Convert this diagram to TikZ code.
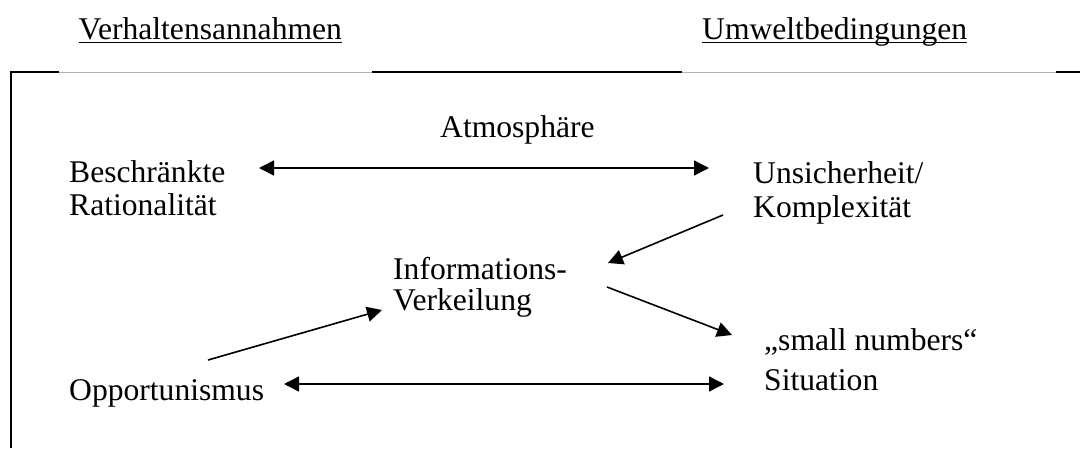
\documentclass[tikz,border=0pt]{standalone}
\usepackage{fontspec}
\setmainfont{Liberation Serif}
\usetikzlibrary{arrows.meta}
\tikzset{
  lbl/.style={anchor=base west, inner sep=0pt, font=\fontsize{31.6}{34}\selectfont},
  tip/.style={Triangle[length=15pt,width=15pt]},
  conn/.style={line width=1.6pt, -{Triangle[length=15pt,width=15pt]}},
  biconn/.style={line width=1.6pt, {Triangle[length=15pt,width=15pt]}-{Triangle[length=15pt,width=15pt]}},
  frameblack/.style={line width=2pt, black},
  framegrey/.style={line width=1pt, black!30},
  uline/.style={line width=1.9pt},
}
\begin{document}
\begin{tikzpicture}[x=1pt,y=-1pt]
\useasboundingbox (0,0) rectangle (1080,448);
% headings
\node[lbl] (vh) at (78.5,39.5) {Verhaltensannahmen};
\node[lbl] (ub) at (702,39.5) {Umweltbedingungen};
\draw[uline] ([yshift=-3pt]vh.base west) -- ([yshift=-3pt]vh.base east);
\draw[uline] ([yshift=-3pt]ub.base west) -- ([yshift=-3pt]ub.base east);
% frame
\coordinate (f0) at (10.5,72);
\coordinate (f1) at (58.5,72);
\coordinate (f2) at (372,72);
\coordinate (f3) at (682,72);
\coordinate (f4) at (1056,72);
\coordinate (f5) at (1080,72);
\coordinate (fb) at (10.5,448);
\draw[framegrey] (f1) -- (f2);
\draw[framegrey] (f3) -- (f4);
\draw[frameblack] (fb) -- (f0) -- (f1);
\draw[frameblack] (f2) -- (f3);
\draw[frameblack] (f4) -- (f5);
% texts
\node[lbl] (atm) at (440,137) {Atmosphäre};
\node[lbl] (br1) at (69,182) {Beschränkte};
\node[lbl] (br2) at (69,215) {Rationalität};
\node[lbl] (uk1) at (753,183) {Unsicherheit/};
\node[lbl] (uk2) at (753,217) {Komplexität};
\node[lbl] (iv1) at (393,279) {Informations-};
\node[lbl] (iv2) at (393,310) {Verkeilung};
\node[lbl] (sn1) at (764,350.5) {„small numbers“};
\node[lbl] (sn2) at (764,390) {Situation};
\node[lbl] (opp) at (69,400.5) {Opportunismus};
% connector ends
\coordinate (a1) at (259,168);
\coordinate (a2) at (709,168);
\coordinate (b1) at (723,215);
\coordinate (b2) at (608,263);
\coordinate (c1) at (607,287);
\coordinate (c2) at (732,335);
\coordinate (d1) at (208,360);
\coordinate (d2) at (382,310);
\coordinate (e1) at (284,384);
\coordinate (e2) at (724,384);
\draw[biconn] (a1) -- (a2);
\draw[conn] (b1) -- (b2);
\draw[conn] (c1) -- (c2);
\draw[conn] (d1) -- (d2);
\draw[biconn] (e1) -- (e2);
\end{tikzpicture}
\end{document}
